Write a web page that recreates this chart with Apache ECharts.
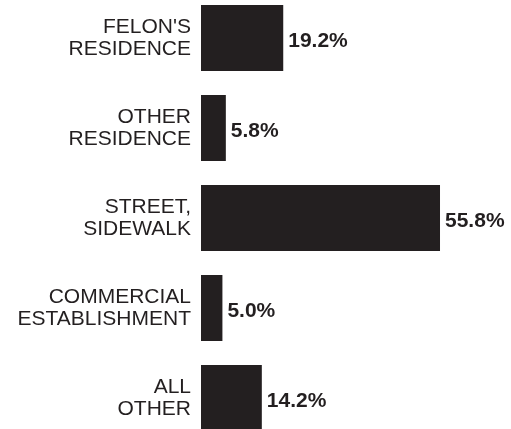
<!DOCTYPE html>
<html>
<head>
<meta charset="utf-8">
<script src="https://cdn.jsdelivr.net/npm/echarts@6/dist/echarts.min.js"></script>
<style>
  html, body { margin: 0; padding: 0; background: #ffffff; }
  #chart { width: 511px; height: 429px; }
</style>
</head>
<body>
<div id="chart"></div>
<script>
// Location of the offense, share of cases (%)
const categories = [
  "FELON'S\nRESIDENCE",
  "OTHER\nRESIDENCE",
  "STREET,\nSIDEWALK",
  "COMMERCIAL\nESTABLISHMENT",
  "ALL\nOTHER"
];
const shares = [19.2, 5.8, 55.8, 5.0, 14.2];

const ink = '#231f20';
const chart = echarts.init(document.getElementById('chart'), null, { renderer: 'canvas' });

chart.setOption({
  backgroundColor: '#ffffff',
  animation: false,
  grid: {
    left: 201, width: 257, top: -7, height: 450,
    containLabel: false,
    outerBoundsMode: 'none'
  },
  xAxis: {
    type: 'value',
    min: 0,
    max: 60,
    show: false
  },
  yAxis: {
    type: 'category',
    data: categories,
    inverse: true,
    axisLine: { show: false },
    axisTick: { show: false },
    splitLine: { show: false },
    axisLabel: {
      margin: 10,
      align: 'right',
      color: ink,
      fontFamily: '"Liberation Sans", Arial, sans-serif',
      fontSize: 21,
      lineHeight: 22
    }
  },
  series: [{
    type: 'bar',
    data: shares,
    barWidth: 66,
    itemStyle: { color: ink },
    label: {
      show: true,
      position: 'right',
      distance: 5,
      offset: [0, 3],
      color: ink,
      fontFamily: '"Liberation Sans", Arial, sans-serif',
      fontWeight: 'bold',
      fontSize: 21,
      formatter: p => p.value.toFixed(1) + '%'
    }
  }]
});
</script>
</body>
</html>
